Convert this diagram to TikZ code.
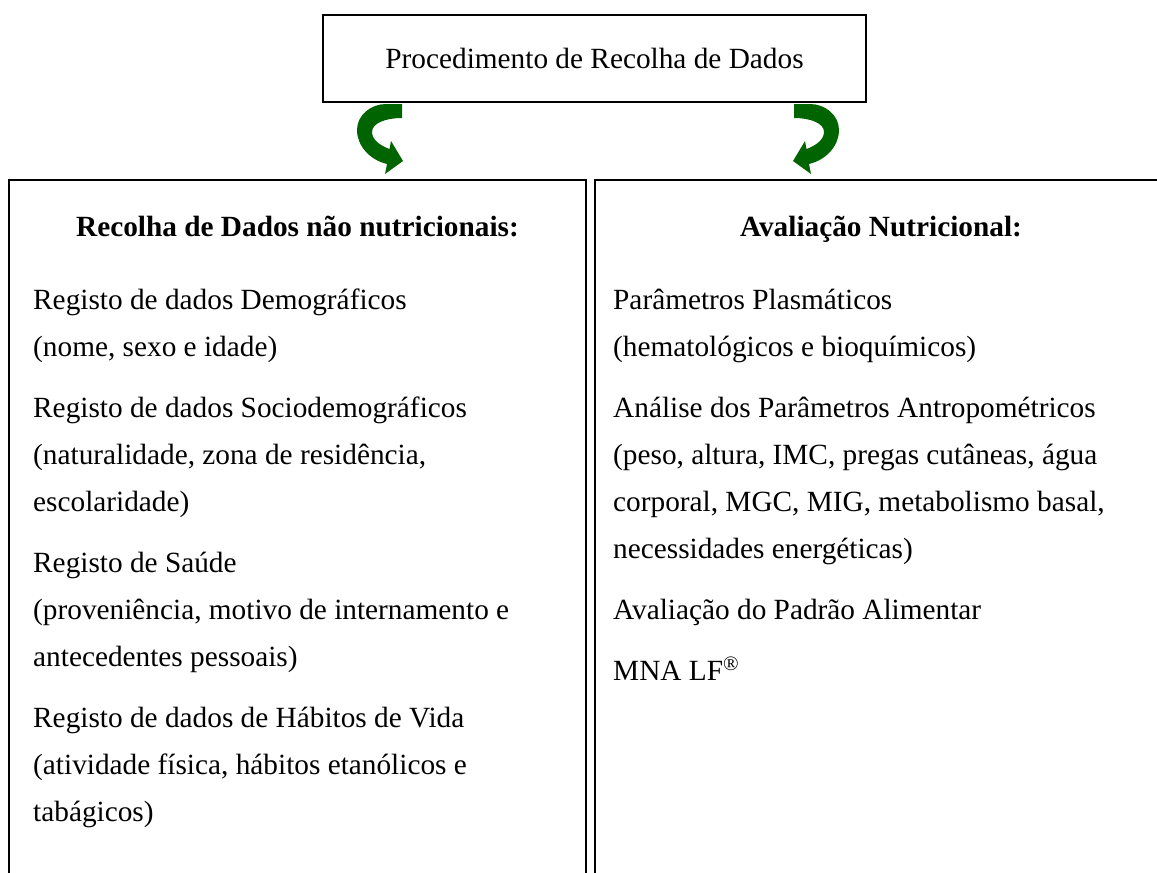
\documentclass[tikz,border=0pt]{standalone}
\usepackage{fontspec}
\setmainfont{Liberation Serif}
\definecolor{arrowgreen}{RGB}{0,100,0}
\begin{document}
\begin{tikzpicture}[x=1pt,y=-1pt,
  frame/.style={line width=1.6pt, draw=black},
  txt/.style={anchor=base west, inner sep=0pt, font=\fontsize{29.3}{35}\selectfont},
  head/.style={anchor=base, inner sep=0pt, font=\fontsize{29.3}{35}\selectfont\bfseries},
  greenarrow/.style={fill=arrowgreen, draw=none}]
\clip (0,0) rectangle (1157,873);
\fill[white] (0,0) rectangle (1157,873);

% top box
\node[frame, minimum width=543pt, minimum height=87pt, inner sep=0pt] (topbox) at (594.5,58.5) {};
\node[anchor=base, inner sep=0pt, font=\fontsize{29.3}{35}\selectfont] (title) at (594.5,68) {Procedimento de Recolha de Dados};

% curved arrows
\path[greenarrow] (386,104) -- (402,104) -- (402,118)
  .. controls (386,118) and (372,123) .. (372,132)
  .. controls (372,140) and (381,146) .. (389.5,149)
  -- (391,141) -- (403,161) -- (385,174) -- (387,164)
  .. controls (370,160) and (357,146) .. (357,130)
  .. controls (357,115) and (371,104) .. (386,104) -- cycle;
\path[greenarrow] (810,104) -- (794,104) -- (794,118)
  .. controls (810,118) and (824,123) .. (824,132)
  .. controls (824,140) and (815,146) .. (806.5,149)
  -- (805,141) -- (793,161) -- (811,174) -- (809,164)
  .. controls (826,160) and (839,146) .. (839,130)
  .. controls (839,115) and (825,104) .. (810,104) -- cycle;

% column boxes (open at the bottom, cut by the page)
\draw[frame] (9,900) -- (9,180) -- (586,180) -- (586,900);
\draw[frame] (595,900) -- (595,180) -- (1175,180) -- (1175,900);

% left column
\node[head] (lh) at (297.5,236) {Recolha de Dados não nutricionais:};
\node[txt] (l1) at (33,309) {Registo de dados Demográficos};
\node[txt] (l2) at (33,356) {(nome, sexo e idade)};
\node[txt] (l3) at (33,417) {Registo de dados Sociodemográficos};
\node[txt] (l4) at (33,464) {(naturalidade, zona de residência,};
\node[txt] (l5) at (33,511) {escolaridade)};
\node[txt] (l6) at (33,572) {Registo de Saúde};
\node[txt] (l7) at (33,619) {(proveniência, motivo de internamento e};
\node[txt] (l8) at (33,666) {antecedentes pessoais)};
\node[txt] (l9) at (33,727) {Registo de dados de Hábitos de Vida};
\node[txt] (l10) at (33,774) {(atividade física, hábitos etanólicos e};
\node[txt] (l11) at (33,821) {tabágicos)};

% right column
\node[head] (rh) at (881,236) {Avaliação Nutricional:};
\node[txt] (r1) at (613,309) {Parâmetros Plasmáticos};
\node[txt] (r2) at (613,356) {(hematológicos e bioquímicos)};
\node[txt] (r3) at (613,417) {Análise dos Parâmetros Antropométricos};
\node[txt] (r4) at (613,464) {(peso, altura, IMC, pregas cutâneas, água};
\node[txt] (r5) at (613,511) {corporal, MGC, MIG, metabolismo basal,};
\node[txt] (r6) at (613,558) {necessidades energéticas)};
\node[txt] (r7) at (613,619) {Avaliação do Padrão Alimentar};
\node[txt] (r8) at (613,680) {MNA LF\textsuperscript{®}};
\end{tikzpicture}
\end{document}
